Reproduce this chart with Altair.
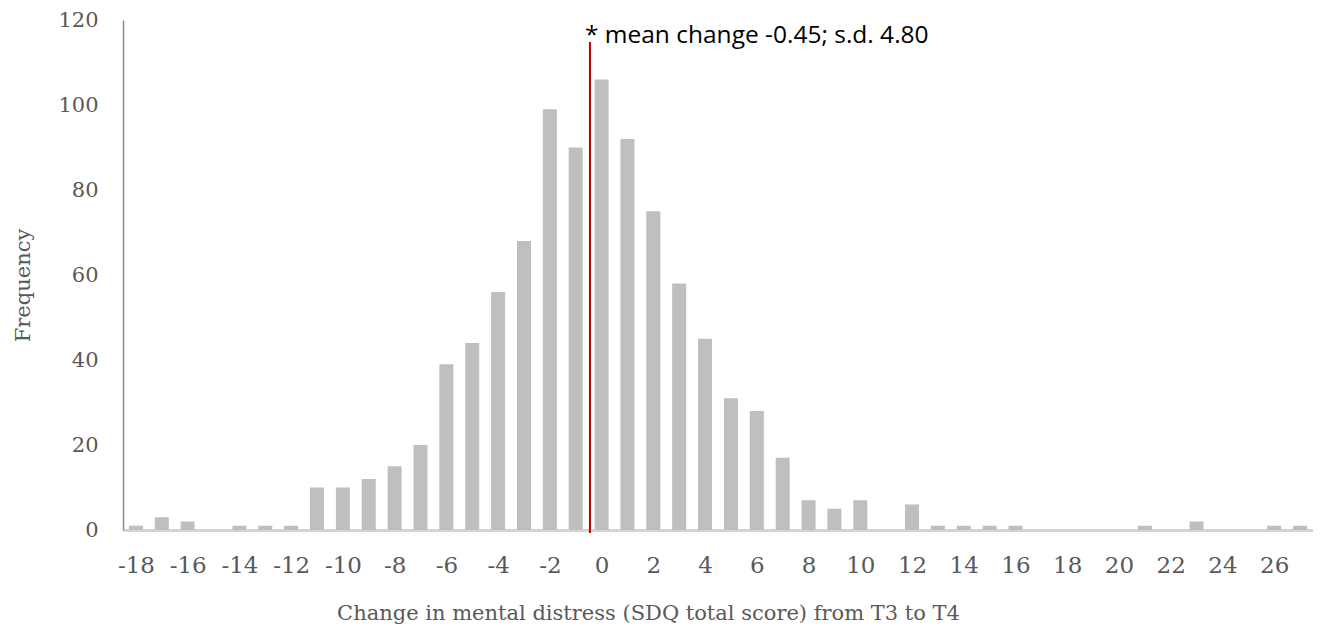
import altair as alt
import pandas as pd

change = list(range(-18, 28))
frequency = [1, 3, 2, 0, 1, 1, 1, 10, 10, 12, 15, 20, 39, 44, 56, 68, 99, 90,
             106, 92, 75, 58, 45, 31, 28, 17, 7, 5, 7, 0, 6, 1, 1, 1, 1,
             0, 0, 0, 0, 1, 0, 2, 0, 0, 1, 1]
tick_values = list(range(-18, 27, 2))
mean_change = [-0.45]
annotation = ["* mean change -0.45; s.d. 4.80"]

df = pd.DataFrame({"change": change, "frequency": frequency})
mean_df = pd.DataFrame({"m": mean_change, "top": [114.8], "bot": [-0.7], "label": annotation, "ty": [116.3]})

xscale = alt.Scale(domain=[-18.5, 27.5], nice=False, zero=False, padding=0)
yscale = alt.Scale(domain=[0, 120], nice=False)

bars = alt.Chart(df).mark_bar(size=14, color="#bfbfbf").encode(
    x=alt.X("change:Q", scale=xscale,
            axis=alt.Axis(values=tick_values, title="Change in mental distress (SDQ total score) from T3 to T4",
                          labelExpr="'' + datum.value",
                          grid=False, ticks=False, domainColor="#d4d4d4", domainWidth=3,
                          labelFont="DejaVu Serif", labelFontSize=23, labelColor="#595959",
                          labelPadding=24, titleFont="DejaVu Serif", titleFontSize=21,
                          titleFontWeight="normal", titleColor="#595959",
                          titleX=525, titleY=89, titleAlign="center", titleBaseline="alphabetic")),
    y=alt.Y("frequency:Q", scale=yscale,
            axis=alt.Axis(values=[0, 20, 40, 60, 80, 100, 120], title="Frequency", grid=False, ticks=False,
                          domainColor="#8c8c8c", domainWidth=1.5,
                          labelFont="DejaVu Serif", labelFontSize=21, labelColor="#595959",
                          labelPadding=25, titleFont="DejaVu Serif", titleFontSize=21,
                          titleFontWeight="normal", titleColor="#595959",
                          titleX=-100, titleY=265, titleAngle=270, titleAlign="center",
                          titleBaseline="middle")),
)

rule = alt.Chart(mean_df).mark_rule(color="#c00000", strokeWidth=2, clip=False).encode(
    x=alt.X("m:Q", scale=xscale),
    y=alt.Y("top:Q", scale=yscale),
    y2="bot:Q",
)

text = alt.Chart(mean_df).mark_text(align="left", baseline="middle", dx=-5, fontSize=24.5,
                                     font="Open Sans", color="#000000").encode(
    x=alt.X("m:Q", scale=xscale),
    y=alt.Y("ty:Q", scale=yscale),
    text="label:N",
)

chart = alt.layer(bars, rule, text).properties(
    width=1190, height=510,
    autosize=alt.AutoSizeParams(type="none"),
    padding={"left": 115, "top": 12, "right": 0, "bottom": 97},
).configure_view(stroke=None)

chart.save("out.html", embed_options={"renderer": "svg", "actions": False})
